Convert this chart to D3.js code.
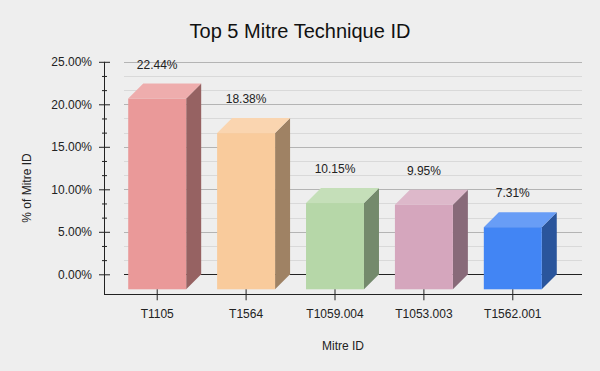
<!DOCTYPE html>
<html>
<head>
<meta charset="utf-8">
<script src="https://cdn.jsdelivr.net/npm/d3@7"></script>
<style>
  html, body { margin: 0; padding: 0; background: #eeeeee; }
  text { font-family: "Liberation Sans", Arial, sans-serif; }
</style>
</head>
<body>
<div id="chart"></div>
<script>
const techniques = ['T1105', 'T1564', 'T1059.004', 'T1053.003', 'T1562.001'];
const percents = [22.44, 18.38, 10.15, 9.95, 7.31];
const yTicks = [0, 5, 10, 15, 20, 25];

const barColors = ['#ea9999', '#f9cb9c', '#b6d7a8', '#d5a6bd', '#4285f4'];

const width = 600;
const height = 371;
const plotDepth = 20;   // offset of back wall
const barDepth = 15;    // 3d depth of bars
const left = 104;
const right = 582;
const axisBottomY = 294.3;

const svg = d3.select('#chart')
  .append('svg')
  .attr('width', width)
  .attr('height', height);

svg.append('rect')
  .attr('width', width)
  .attr('height', height)
  .attr('fill', '#eeeeee');

// y scale is on the back wall
const y = d3.scaleLinear()
  .domain([0, 25])
  .range([axisBottomY - plotDepth, 61.8]);

const x = d3.scaleBand()
  .domain(techniques)
  .range([106, 564])
  .paddingInner(0.348)
  .paddingOuter(0.25);

const minorTicks = d3.range(0, 25.01, 5 / 3)
  .filter(v => Math.abs(v / 5 - Math.round(v / 5)) > 0.01);

// gridlines
svg.append('g')
  .selectAll('line')
  .data(minorTicks)
  .enter()
  .append('line')
  .attr('x1', left + plotDepth)
  .attr('x2', right)
  .attr('y1', d => Math.round(y(d)) + 0.5)
  .attr('y2', d => Math.round(y(d)) + 0.5)
  .attr('stroke', '#d9d9d9');

svg.append('g')
  .selectAll('line')
  .data(yTicks)
  .enter()
  .append('line')
  .attr('x1', left + plotDepth)
  .attr('x2', right)
  .attr('y1', d => Math.round(y(d)) + 0.5)
  .attr('y2', d => Math.round(y(d)) + 0.5)
  .attr('stroke', d => d === 0 ? '#222222' : '#b4b4b4');

// bars
const bars = svg.append('g')
  .selectAll('g')
  .data(techniques.map((t, i) => ({ t, v: percents[i], c: barColors[i] })))
  .enter()
  .append('g');

const front = d => {
  const x0 = x(d.t);
  const x1 = x0 + x.bandwidth();
  const top = y(d.v) + barDepth;
  const bottom = y(0) + barDepth;
  return { x0, x1, top, bottom };
};

bars.append('polygon')
  .attr('points', d => {
    const f = front(d);
    return [[f.x1, f.top], [f.x1 + barDepth, f.top - barDepth],
      [f.x1 + barDepth, f.bottom - barDepth], [f.x1, f.bottom]].join(' ');
  })
  .attr('fill', d => {
    const c = d3.rgb(d.c);
    return d3.rgb(c.r * 0.64, c.g * 0.64, c.b * 0.64);
  });

bars.append('polygon')
  .attr('points', d => {
    const f = front(d);
    return [[f.x0, f.top], [f.x0 + barDepth, f.top - barDepth],
      [f.x1 + barDepth, f.top - barDepth], [f.x1, f.top]].join(' ');
  })
  .attr('fill', d => d3.interpolateRgb(d.c, '#ffffff')(0.2));

bars.append('rect')
  .attr('x', d => front(d).x0)
  .attr('y', d => front(d).top)
  .attr('width', x.bandwidth())
  .attr('height', d => front(d).bottom - front(d).top)
  .attr('fill', d => d.c);

bars.append('text')
  .attr('x', d => x(d.t) + x.bandwidth() / 2)
  .attr('y', d => front(d).top - 30)
  .attr('text-anchor', 'middle')
  .style('font-size', '12px')
  .attr('fill', '#222')
  .text(d => d.v.toFixed(2) + '%');

// y axis
const yAxis = svg.append('g')
  .attr('transform', `translate(${left + 6}, 0)`)
  .call(d3.axisLeft(y).tickValues(yTicks).tickSize(11).tickPadding(7)
    .tickFormat(d => d.toFixed(2) + '%'));
yAxis.select('.domain').remove();
yAxis.selectAll('text').style('font-size', '12px').attr('fill', '#222');
yAxis.selectAll('line').attr('stroke', '#222');

const yMinor = svg.append('g')
  .attr('transform', `translate(${left + 3}, 0)`)
  .call(d3.axisLeft(y).tickValues(minorTicks).tickSize(5).tickFormat(''));
yMinor.select('.domain').remove();
yMinor.selectAll('line').attr('stroke', '#222');

svg.append('line')
  .attr('x1', left + 0.5)
  .attr('x2', left + 0.5)
  .attr('y1', y(25))
  .attr('y2', axisBottomY)
  .attr('stroke', '#222');

// x axis
const xAxis = svg.append('g')
  .attr('transform', `translate(0, ${axisBottomY - 5})`)
  .call(d3.axisBottom(x).tickSize(11).tickPadding(9));
xAxis.select('.domain').remove();
xAxis.selectAll('text').style('font-size', '12px').attr('fill', '#222');
xAxis.selectAll('line').attr('stroke', '#222');

svg.append('line')
  .attr('x1', left)
  .attr('x2', right)
  .attr('y1', Math.round(axisBottomY) + 0.5)
  .attr('y2', Math.round(axisBottomY) + 0.5)
  .attr('stroke', '#222');

// titles
svg.append('text')
  .attr('x', 300)
  .attr('y', 37.7)
  .attr('text-anchor', 'middle')
  .style('font-size', '20px')
  .attr('fill', '#111')
  .text('Top 5 Mitre Technique ID');

svg.append('text')
  .attr('x', (left + right) / 2)
  .attr('y', 349.5)
  .attr('text-anchor', 'middle')
  .style('font-size', '12px')
  .attr('fill', '#222')
  .text('Mitre ID');

svg.append('text')
  .attr('transform', 'rotate(-90)')
  .attr('x', -188)
  .attr('y', 31)
  .attr('text-anchor', 'middle')
  .style('font-size', '12px')
  .attr('fill', '#222')
  .text('% of Mitre ID');
</script>
</body>
</html>
